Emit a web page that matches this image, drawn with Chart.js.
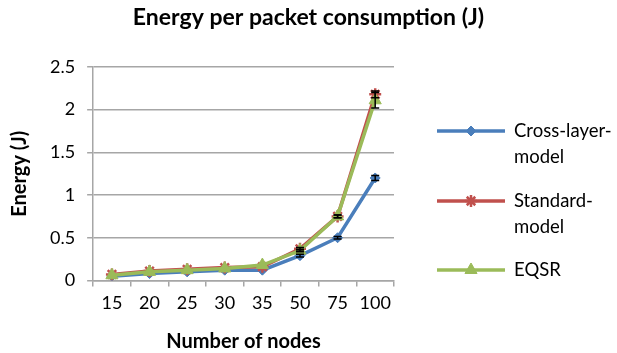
<!DOCTYPE html>
<html>
<head>
<meta charset="utf-8">
<script src="https://cdn.jsdelivr.net/npm/chart.js@4.4.1/dist/chart.umd.min.js"></script>
<style>
  html, body { margin: 0; padding: 0; background: #ffffff; }
  #wrap { width: 617px; height: 353px; position: relative; }
</style>
</head>
<body>
<div id="wrap"><canvas id="chart" width="617" height="353"></canvas></div>
<script>
// Number of nodes on the x axis
const nodes = ['15', '20', '25', '30', '35', '50', '75', '100'];

// Energy per packet (J) for each model
const crossLayer = [0.05, 0.08, 0.10, 0.12, 0.12, 0.29, 0.50, 1.20];
const standard   = [0.07, 0.11, 0.13, 0.15, 0.16, 0.37, 0.75, 2.18];
const eqsr       = [0.06, 0.10, 0.12, 0.14, 0.18, 0.35, 0.75, 2.11];

// Error bar half-heights (J); zero means no bar
const crossLayerErr = [0, 0, 0, 0, 0, 0.015, 0.015, 0.03];
const standardErr   = [0, 0, 0, 0, 0, 0.015, 0.015, 0.04];
const eqsrErr       = [0, 0, 0, 0, 0, 0.015, 0.015, 0.09];

// Legend entries, each label split over its wrapped lines
const legendLines = [['Cross-layer-', 'model'], ['Standard-', 'model'], ['EQSR']];

const chartTitle = 'Energy per packet consumption (J)';

const FONT = 'Lato, "Open Sans", sans-serif';

const errorBars = {
  id: 'errorBars',
  afterDatasetsDraw(chart) {
    const ctx = chart.ctx;
    const y = chart.scales.y;
    ctx.save();
    ctx.strokeStyle = '#000000';
    ctx.lineWidth = 1.5;
    chart.data.datasets.forEach((ds, i) => {
      const meta = chart.getDatasetMeta(i);
      meta.data.forEach((pt, j) => {
        const v = ds.data[j], e = ds.errors[j];
        if (!e) return;
        const yTop = y.getPixelForValue(v + e);
        const yBot = y.getPixelForValue(v - e);
        ctx.beginPath();
        ctx.moveTo(pt.x, yTop); ctx.lineTo(pt.x, yBot);
        ctx.moveTo(pt.x - 4, yTop); ctx.lineTo(pt.x + 4, yTop);
        ctx.moveTo(pt.x - 4, yBot); ctx.lineTo(pt.x + 4, yBot);
        ctx.stroke();
      });
    });
    ctx.restore();
  }
};

// Title centred across the full canvas width
const pageTitle = {
  id: 'pageTitle',
  afterDraw(chart) {
    const ctx = chart.ctx;
    ctx.save();
    ctx.fillStyle = '#000000';
    ctx.font = 'bold 23px ' + FONT;
    ctx.textAlign = 'center';
    ctx.textBaseline = 'alphabetic';
    ctx.fillText(chartTitle, chart.width / 2, 25);
    ctx.restore();
  }
};

const sideLegend = {
  id: 'sideLegend',
  afterDraw(chart) {
    const ctx = chart.ctx;
    const x0 = 437, x1 = 505, tx = 514;
    const rows = [131, 201, 270];
    const lineGap = 26;
    ctx.save();
    chart.data.datasets.forEach((ds, i) => {
      const yy = rows[i];
      ctx.strokeStyle = ds.borderColor;
      ctx.lineWidth = ds.borderWidth;
      ctx.beginPath();
      ctx.moveTo(x0, yy); ctx.lineTo(x1, yy);
      ctx.stroke();
      ctx.fillStyle = ds.pointBackgroundColor;
      ctx.strokeStyle = ds.pointBorderColor;
      ctx.lineWidth = ds.pointBorderWidth || 1;
      Chart.helpers.drawPoint(ctx, {
        pointStyle: ds.pointStyle,
        radius: ds.pointRadius,
        borderWidth: ds.pointBorderWidth || 1,
        rotation: 0
      }, (x0 + x1) / 2, yy);
      ctx.fillStyle = '#000000';
      ctx.font = '18.5px ' + FONT;
      ctx.textBaseline = 'middle';
      ctx.textAlign = 'left';
      legendLines[i].forEach((t, k) => ctx.fillText(t, tx, yy + k * lineGap));
    });
    ctx.restore();
  }
};

new Chart(document.getElementById('chart'), {
  type: 'line',
  data: {
    labels: nodes,
    datasets: [
      {
        label: 'Cross-layer-model',
        data: crossLayer,
        errors: crossLayerErr,
        borderColor: '#4a7ebb',
        backgroundColor: '#4a7ebb',
        pointBackgroundColor: '#4a7ebb',
        pointBorderColor: '#4a7ebb',
        pointStyle: 'rectRot',
        pointRadius: 5,
        pointBorderWidth: 1,
        borderWidth: 3.5,
        order: 3
      },
      {
        label: 'Standard-model',
        data: standard,
        errors: standardErr,
        borderColor: '#c0504d',
        backgroundColor: '#c0504d',
        pointBackgroundColor: '#c0504d',
        pointBorderColor: '#c0504d',
        pointStyle: 'star',
        pointRadius: 6,
        pointBorderWidth: 2.5,
        borderWidth: 3.5,
        order: 2
      },
      {
        label: 'EQSR',
        data: eqsr,
        errors: eqsrErr,
        borderColor: '#9bbb59',
        backgroundColor: '#9bbb59',
        pointBackgroundColor: '#9bbb59',
        pointBorderColor: '#9bbb59',
        pointStyle: 'triangle',
        pointRadius: 7,
        pointBorderWidth: 1,
        borderWidth: 3.5,
        order: 1
      }
    ]
  },
  options: {
    responsive: false,
    animation: false,
    layout: { padding: { left: 10, right: 223, top: 67, bottom: 1 } },
    plugins: {
      legend: { display: false },
      tooltip: { enabled: false },
      title: { display: false }
    },
    scales: {
      x: {
        offset: true,
        grid: {
          offset: true,
          drawOnChartArea: false,
          drawTicks: true,
          tickLength: 6,
          color: '#a6a6a6',
          lineWidth: 1.5
        },
        border: { color: '#a6a6a6', width: 1.5 },
        ticks: {
          color: '#000000',
          font: { family: FONT, size: 18 },
          padding: 6,
          maxRotation: 0,
          minRotation: 0,
          autoSkip: false
        },
        title: {
          display: true,
          text: 'Number of nodes',
          color: '#000000',
          font: { family: FONT, size: 20, weight: 'bold', lineHeight: 1 },
          padding: { top: 12, bottom: 0 }
        }
      },
      y: {
        min: 0,
        max: 2.5,
        ticks: {
          stepSize: 0.5,
          color: '#000000',
          font: { family: FONT, size: 18 },
          padding: 12,
          callback: (v) => String(v)
        },
        grid: { color: '#a6a6a6', lineWidth: 1.5, tickLength: 6 },
        border: { color: '#a6a6a6', width: 1.5 },
        title: {
          display: true,
          text: 'Energy (J)',
          color: '#000000',
          font: { family: FONT, size: 20, weight: 'bold', lineHeight: 1 },
          padding: { top: 0, bottom: 8 }
        }
      }
    }
  },
  plugins: [errorBars, pageTitle, sideLegend]
});
</script>
</body>
</html>
